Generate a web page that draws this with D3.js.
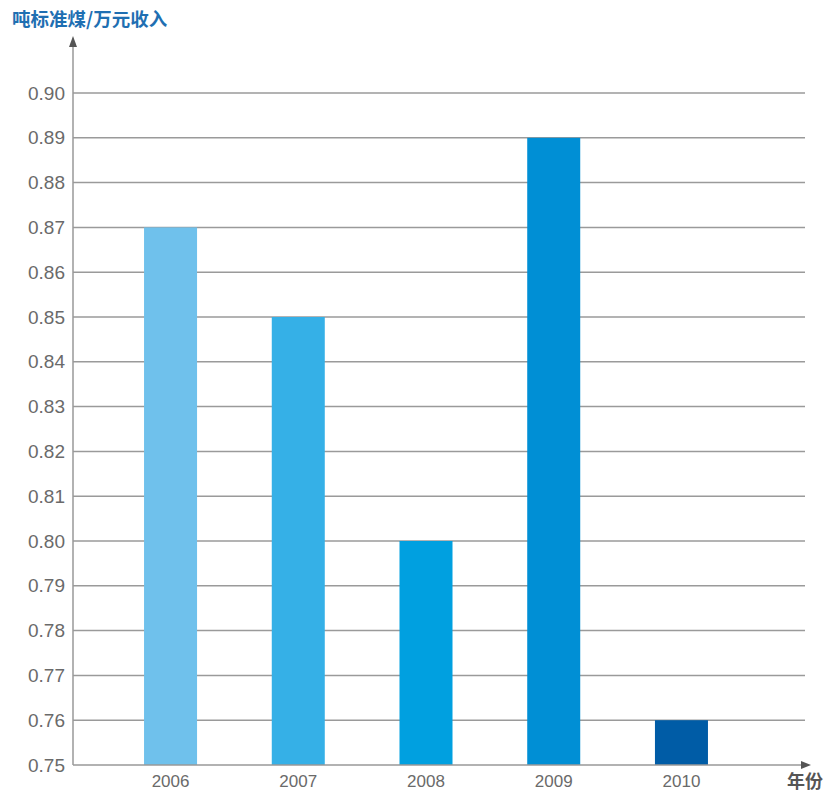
<!DOCTYPE html>
<html><head><meta charset="utf-8">
<script src="https://cdn.jsdelivr.net/npm/d3@7"></script>
<style>body{margin:0;background:#fff}svg{display:block}</style>
</head><body>
<svg id="c" width="832" height="794"></svg>
<script>
const categories = ["2006","2007","2008","2009","2010"];
const values = [0.87, 0.85, 0.80, 0.89, 0.76];
const colors = ["#6fc1ec","#35b0e7","#00a0e0","#008fd5","#005ca6"];
const yTicks = [0.75,0.76,0.77,0.78,0.79,0.80,0.81,0.82,0.83,0.84,0.85,0.86,0.87,0.88,0.89,0.90];
const yTitle = "吨标准煤/万元收入";
const xTitle = "年份";

const svg = d3.select("#c");
const x0 = 73, xEnd = 805;
const y = d3.scaleLinear().domain([0.75,0.90]).range([765,93]);
const x = d3.scaleBand().domain(categories).range([107,745]).paddingInner(0.585).paddingOuter(0.29);

// gridlines
svg.append("g").selectAll("line").data(yTicks.filter(d=>d>0.75)).join("line")
  .attr("x1",x0).attr("x2",xEnd).attr("y1",d=>y(d)).attr("y2",d=>y(d))
  .attr("stroke","#9a9a9a").attr("stroke-width",1.5);

// bars
svg.append("g").selectAll("rect").data(categories).join("rect")
  .attr("x",d=>x(d)).attr("width",x.bandwidth())
  .attr("y",(d,i)=>y(values[i])).attr("height",(d,i)=>y(0.75)-y(values[i]))
  .attr("fill",(d,i)=>colors[i]);

// y axis
const yAxis = d3.axisLeft(y).tickValues(yTicks).tickFormat(d3.format(".2f")).tickSize(0).tickPadding(8);
const ya = svg.append("g").attr("transform",`translate(${x0},0)`).call(yAxis);
ya.select(".domain").remove();
ya.selectAll("text").attr("fill","#6a6a6a").style("font-family","'Liberation Sans',Arial,sans-serif").style("font-size","19px");

// x axis
const xAxis = d3.axisBottom(x).tickSize(0).tickPadding(10);
const xa = svg.append("g").attr("transform",`translate(0,765)`).call(xAxis);
xa.select(".domain").remove();
xa.selectAll("text").attr("fill","#6a6a6a").style("font-family","'Liberation Sans',Arial,sans-serif").style("font-size","17px");

// axis lines with arrows
svg.append("line").attr("x1",x0).attr("x2",x0).attr("y1",765).attr("y2",46).attr("stroke","#999").attr("stroke-width",1.5);
svg.append("path").attr("d",`M${x0-4},47 L${x0},36 L${x0+4},47 Z`).attr("fill","#555");
svg.append("line").attr("x1",x0).attr("x2",802).attr("y1",765).attr("y2",765).attr("stroke","#999").attr("stroke-width",1.5);
svg.append("path").attr("d",`M801,761 L811,765 L801,769 Z`).attr("fill","#555");

// titles
svg.append("text").attr("x",12).attr("y",26).text(yTitle)
  .attr("fill","#1f6fb2").style("font-family","'Noto Sans CJK SC',sans-serif").style("font-weight","bold").style("font-size","18.5px");
svg.append("text").attr("x",787).attr("y",788).text(xTitle)
  .attr("fill","#555").style("font-family","'Noto Sans CJK SC',sans-serif").style("font-weight","bold").style("font-size","18px");
</script>
</body></html>
